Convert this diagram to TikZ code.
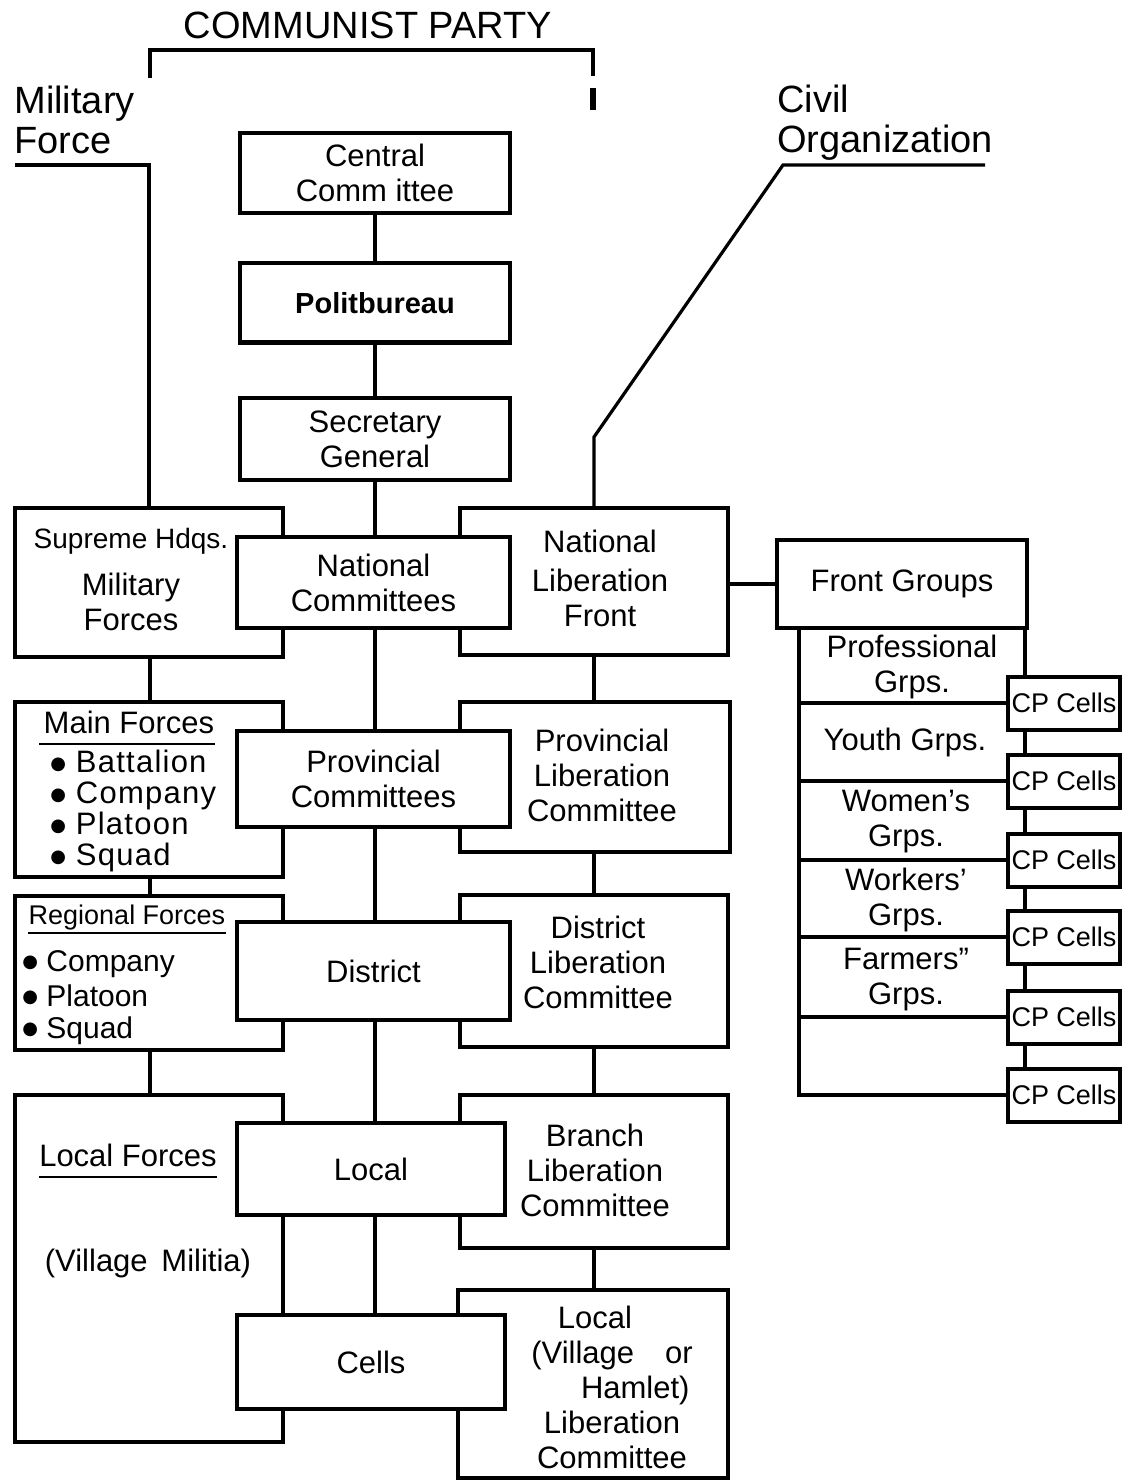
\documentclass[tikz,border=0pt]{standalone}
\usepackage{fontspec}
\setmainfont{Liberation Sans}
\newfontfamily\symfont{DejaVu Sans}
\usepackage{tikz}

\newcommand{\boxfont}{\fontsize{15.5}{17.5}\selectfont}
\newcommand{\listfont}{\fontsize{15.5}{15.5}\selectfont}
\newcommand{\headfont}{\fontsize{19}{20}\selectfont}
\newcommand{\blt}{\raisebox{1.8pt}{\fontsize{9}{9}\symfont ●}}

\tikzset{
  orgbox/.style={draw, line width=2pt, fill=white, inner sep=0pt},
  boxwh/.style 2 args={minimum width=#1*0.5pt, minimum height=#2*0.5pt},
  link/.style={line width=1.6pt},
  uline/.style={line width=1pt},
  lab/.style={align=center, inner sep=0pt, font=\boxfont},
  headlab/.style={align=left, inner sep=0pt, font=\headfont},
}

\begin{document}
\begin{tikzpicture}[x=0.5pt, y=-0.5pt]
  \useasboundingbox (0,0) rectangle (1133,1481);

  % headings
  \node[headlab] (party) at (368,25) {COMMUNIST PARTY};
  \draw[line width=2pt] (150,78) -- (150,50) -- (593,50) -- (593,76);
  \draw[line width=3pt] (593,88) -- (593,110);
  \node[headlab, anchor=west] (milforce) at (14,120) {Military\\Force};
  \node[headlab, anchor=west] (civorg) at (777,123) {Civil\\Organization};

  % military column
  \node[orgbox, boxwh={268}{149}] (shq) at (149,582.5) {};
  \node[orgbox, boxwh={268}{175}] (mf) at (149,789.5) {};
  \node[orgbox, boxwh={268}{154}] (rf) at (149,973) {};
  \node[orgbox, boxwh={268}{347}] (lf) at (149,1268.5) {};

  % civil column
  \node[orgbox, boxwh={268}{147}] (nlf) at (594,581.5) {};
  \node[orgbox, boxwh={270}{150}] (plc) at (595,777) {};
  \node[orgbox, boxwh={268}{152}] (dlc) at (594,971) {};
  \node[orgbox, boxwh={268}{153}] (blc) at (594,1171.5) {};
  \node[orgbox, boxwh={270}{188}] (vlc) at (593,1384) {};

  % party column
  \node[orgbox, boxwh={270}{80}, lab] (cc) at (375,173) {Central\\Comm ittee};
  \node[orgbox, boxwh={270}{79}, lab, font=\fontsize{14.5}{17}\selectfont] (pb) at (375,303) {\textbf{Politbureau}};
  \node[orgbox, boxwh={270}{82}, lab] (sg) at (375,439) {Secretary\\General};
  \node[orgbox, boxwh={273}{91}, lab] (nc) at (373.5,582.5) {National\\Committees};
  \node[orgbox, boxwh={273}{96}, lab] (pc) at (373.5,779) {Provincial\\Committees};
  \node[orgbox, boxwh={273}{98}, lab] (dist) at (373.5,971) {District};
  \node[orgbox, boxwh={268}{92}, lab] (loc) at (371,1169) {Local};
  \node[orgbox, boxwh={268}{94}, lab] (cells) at (371,1362) {Cells};

  % texts of the side boxes
  \node[lab] (shq-t) at (131,580) {{\fontsize{14}{15}\selectfont Supreme Hdqs.}\\[6pt]Military\\Forces};
  \node[lab] (mf-h) at (129,722) {Main Forces};
  \draw[uline] ([xshift=-2pt,yshift=-5pt]mf-h.south west) -- ([xshift=0pt,yshift=-5pt]mf-h.south east);
  \node[lab, align=left, font=\listfont\addfontfeature{LetterSpace=4}, anchor=north west] (mf-l) at (50,750)
    {\blt\ Battalion\\\blt\ Company\\\blt\ Platoon\\\blt\ Squad};
  \node[lab, font=\fontsize{13.5}{15}\selectfont] (rf-h) at (127,918) {Regional Forces};
  \draw[uline] ([yshift=-1pt]rf-h.south west) -- ([yshift=-1pt]rf-h.south east);
  \node[lab, align=left, font=\fontsize{15}{16}\selectfont, anchor=north west] (rf-l) at (22,950)
    {\blt\ Company\\[1.5pt]\blt\ Platoon\\\blt\ Squad};
  \node[lab] (lf-h) at (128,1155) {Local Forces};
  \draw[uline] ([yshift=-5pt]lf-h.south west) -- ([yshift=-5pt]lf-h.south east);
  \node[lab] (lf-m) at (148,1263) {(Village\, Militia)};

  \node[lab] (nlf-t) at (600,578) {National\\[2pt]Liberation\\Front};
  \node[lab] (plc-t) at (602,775) {Provincial\\Liberation\\Committee};
  \node[lab] (dlc-t) at (598,962) {District\\Liberation\\Committee};
  \node[lab] (blc-t) at (595,1170) {Branch\\Liberation\\Committee};
  \node[lab] (vlc-t) at (612,1387) {Local\hspace*{1.1em}\\(Village\quad or\\\hspace*{1.5em}Hamlet)\\Liberation\\Committee};

  % front groups
  \node[orgbox, boxwh={250}{88}, lab] (fg) at (902,584) {Front Groups};
  \foreach \n/\y in {1/703, 2/781, 3/860, 4/937, 5/1017, 6/1095}
    \node[orgbox, boxwh={112}{53}, lab, font=\fontsize{13.5}{16}\selectfont] (cp\n) at (1064,\y) {CP Cells};
  \node[lab] (grp-prof) at (912,667) {Professional\\Grps.};
  \node[lab] (grp-youth) at (905,742) {Youth Grps.};
  \node[lab] (grp-women) at (906,822) {Women's\\Grps.};
  \node[lab] (grp-work) at (906,900) {Workers'\\Grps.};
  \node[lab] (grp-farm) at (906,980) {Farmers"\\Grps.};

  % connectors
  \coordinate (mil-end) at (15,165);
  \draw[link] (mil-end) -- (mil-end -| shq.north) -- (shq.north);
  \coordinate (civ-end) at (985,165);
  \coordinate (civ-bend) at (783,165);
  \coordinate (civ-knee) at (594,437);
  \draw[link] (civ-end) -- (civ-bend) -- (civ-knee) -- (nlf.north);

  \coordinate (spine) at (375,0);
  \coordinate (colL) at (150,0);
  \coordinate (colR) at (594,0);
  \foreach \a/\b in {cc/pb, pb/sg, sg/nc, nc/pc, pc/dist, dist/loc, loc/cells}
    \draw[link] (\a.south -| spine) -- (\b.north -| spine);
  \foreach \a/\b in {shq/mf, mf/rf, rf/lf}
    \draw[link] (\a.south -| colL) -- (\b.north -| colL);
  \foreach \a/\b in {nlf/plc, plc/dlc, dlc/blc, blc/vlc}
    \draw[link] (\a.south -| colR) -- (\b.north -| colR);
  \draw[link] (nlf.east |- fg.west) -- (fg.west);

  \coordinate (trunk) at (799,700);
  \coordinate (chain) at (1025,700);
  \draw[link] (fg.south -| trunk) -- (cp6.west -| trunk) -- (cp6.west);
  \foreach \n in {1,...,5}
    \draw[link] (cp\n.west -| trunk) -- (cp\n.west);
  \draw[link] (fg.south -| chain) -- (cp1.north -| chain);
  \foreach \a/\b in {1/2, 2/3, 3/4, 4/5, 5/6}
    \draw[link] (cp\a.south -| chain) -- (cp\b.north -| chain);
\end{tikzpicture}
\end{document}
